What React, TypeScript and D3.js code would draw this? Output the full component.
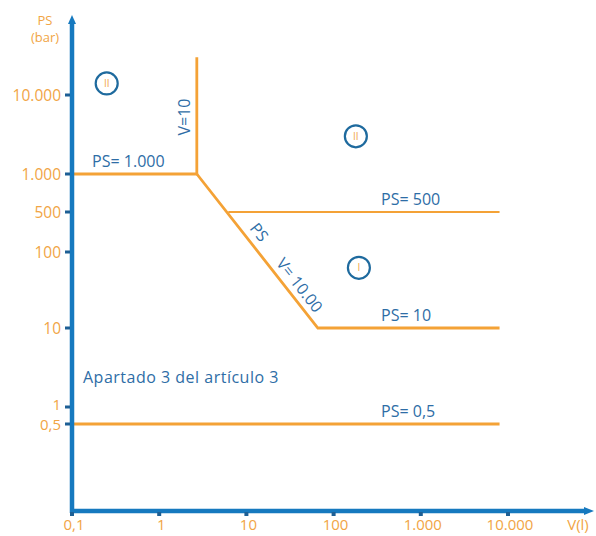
import React from 'react';
import * as d3 from 'd3';

// X axis (V in litres)
const xTicks = [0.1, 1, 10, 100, 1000, 10000];
const xTickLabels = ['0,1', '1', '10', '100', '1.000', '10.000'];
// Y axis (PS in bar) – schematic, uneven spacing
const yTicks = [0.5, 1, 10, 100, 500, 1000, 10000];
const yTickLabels = ['0,5', '1', '10', '100', '500', '1.000', '10.000'];

// Boundary lines [V, PS]
const lineTopLeft: [number, number][] = [[0.1, 1000], [2.7, 1000], [2.7, 30000]];
const lineDiagonal: [number, number][] = [[2.7, 1000], [66, 10], [8000, 10]];
const line500: [number, number][] = [[6.2, 500], [8000, 500]];
const line05: [number, number][] = [[0.1, 0.5], [8000, 0.5]];

// Region markers [V, PS, label]
const regions: [number, number, string][] = [
  [0.25, 14000, 'II'],
  [180, 3000, 'II'],
  [195, 62, 'I'],
];

// Line labels [V, PS, text]
const lineLabels: [number, number, string][] = [
  [0.17, 1000, 'PS= 1.000'],
  [350, 500, 'PS= 500'],
  [350, 10, 'PS= 10'],
  [350, 0.5, 'PS= 0,5'],
];

const W = 596;
const H = 536;
const ORANGE = '#F4A236';
const ORANGE_TXT = '#F1A545';
const BLUE = '#1679BF';
const BLUE_TXT = '#2E6DA6';
const FONT = '"Open Sans", sans-serif';

export default function App() {
  const x = d3.scaleLog().domain([0.1, 10000]).range([72, 508]);
  const y = d3
    .scaleLog()
    .domain(yTicks)
    .range([424, 407, 328, 252, 212, 174, 95]);

  const axisX0 = 72;
  const axisY0 = 511;
  const line = d3
    .line<[number, number]>()
    .x((d) => x(d[0]))
    .y((d) => y(d[1]));

  // diagonal geometry for the rotated labels
  const p0 = [x(lineDiagonal[0][0]), y(lineDiagonal[0][1])];
  const p1 = [x(lineDiagonal[1][0]), y(lineDiagonal[1][1])];
  const ang = (Math.atan2(p1[1] - p0[1], p1[0] - p0[0]) * 180) / Math.PI;
  const along = (t: number, off: number) => {
    const dx = p1[0] - p0[0];
    const dy = p1[1] - p0[1];
    const len = Math.hypot(dx, dy);
    const nx = dy / len;
    const ny = -dx / len;
    return [p0[0] + dx * t + nx * off, p0[1] + dy * t + ny * off];
  };
  const psPos = along(0.43, 13);
  const vPos = along(0.77, 12);

  return (
    <svg
      width={W}
      height={H}
      style={{ position: 'absolute', left: 0, top: 0, background: '#fff' }}
      fontFamily={FONT}
    >
      {/* orange boundary lines */}
      {[lineTopLeft, lineDiagonal, line500, line05].map((l, i) => (
        <path
          key={i}
          d={line(l) || ''}
          fill="none"
          stroke={ORANGE}
          strokeWidth={i === 2 ? 2.2 : i === 3 ? 3.2 : 2.8}
          strokeLinejoin="miter"
        />
      ))}

      {/* axes */}
      <line x1={axisX0} x2={axisX0} y1={axisY0 + 2} y2={22} stroke={BLUE} strokeWidth={4.5} />
      <path d={`M${axisX0 - 4},24 L${axisX0},15 L${axisX0 + 4},24 Z`} fill={BLUE} />
      <line x1={axisX0 - 2} x2={586} y1={axisY0} y2={axisY0} stroke={BLUE} strokeWidth={4.5} />
      <path d={`M584,${axisY0 - 4} L594,${axisY0} L584,${axisY0 + 4} Z`} fill={BLUE} />

      {/* y ticks */}
      {yTicks.map((t, i) => (
        <g key={'y' + i}>
          <rect x={axisX0 - 7} y={y(t) - 1.5} width={5} height={3} fill="#1d5f95" />
          <text
            x={axisX0 - 11}
            y={y(t) + (t === 1 ? -2 : t === 0.5 ? 1 : 0)}
            dy="0.36em"
            textAnchor="end"
            fontSize={t === 1 || t === 0.5 ? 15 : 15.5}
            fill={ORANGE_TXT}
          >
            {yTickLabels[i]}
          </text>
        </g>
      ))}
      <text x={45} y={25} textAnchor="middle" fontSize={13} fill={ORANGE_TXT}>PS</text>
      <text x={45} y={42} textAnchor="middle" fontSize={13} fill={ORANGE_TXT}>(bar)</text>

      {/* x ticks */}
      {xTicks.map((t, i) => (
        <g key={'x' + i}>
          <rect x={x(t) - 2} y={axisY0 + 1} width={4} height={4} fill="#1d5f95" />
          <text x={x(t) + 2} y={530} textAnchor="middle" fontSize={15} fill={ORANGE_TXT}>
            {xTickLabels[i]}
          </text>
        </g>
      ))}
      <text x={578} y={530} textAnchor="middle" fontSize={15} fill={ORANGE_TXT}>V(l)</text>

      {/* line labels */}
      {lineLabels.map((l, i) => (
        <text key={'l' + i} x={x(l[0])} y={y(l[1]) - 7} fontSize={16} fill={BLUE_TXT}>
          {l[2]}
        </text>
      ))}
      <text
        transform={`translate(${x(2.7) - 7},${y(10000) + 22}) rotate(-90)`}
        textAnchor="middle"
        fontSize={16}
        fill={BLUE_TXT}
      >
        V=10
      </text>
      <text
        transform={`translate(${psPos[0]},${psPos[1]}) rotate(${ang})`}
        textAnchor="middle"
        dy="0.35em"
        fontSize={16}
        fill={BLUE_TXT}
      >
        PS
      </text>
      <text
        transform={`translate(${vPos[0]},${vPos[1]}) rotate(${ang})`}
        textAnchor="middle"
        dy="0.35em"
        fontSize={16}
        fill={BLUE_TXT}
      >
        V= 10.00
      </text>
      <text x={x(0.1) + 11} y={y(1) - 24} fontSize={16} letterSpacing={0.5} fill={BLUE_TXT}>
        Apartado 3 del artículo 3
      </text>

      {/* region markers */}
      {regions.map((r, i) => (
        <g key={'r' + i} transform={`translate(${x(r[0])},${y(r[1])})`}>
          <circle r={11} fill="#fff" stroke="#1E6A9E" strokeWidth={2.2} />
          <text textAnchor="middle" dy="0.35em" fontSize={10} fill={ORANGE_TXT}>
            {r[2]}
          </text>
        </g>
      ))}
    </svg>
  );
}
